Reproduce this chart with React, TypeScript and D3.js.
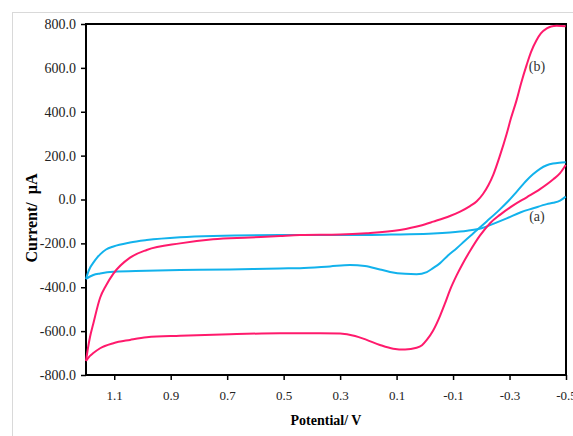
import React, { useRef, useEffect } from 'react';
import * as d3 from 'd3';

// [potential (V), current (µA)]
// curve (a) - cyan
const cvA_upper: [number, number][] = [
  [-0.499, 13], [-0.479, -5], [-0.455, -15], [-0.432, -21], [-0.384, -40], [-0.340, -58],
  [-0.290, -86], [-0.240, -112], [-0.201, -131], [-0.150, -142], [-0.089, -150],
  [-0.030, -155], [0.088, -159], [0.206, -162], [0.300, -162], [0.442, -162],
  [0.513, -162], [0.750, -166], [0.867, -172], [0.985, -185], [1.044, -196],
  [1.103, -214], [1.129, -228], [1.150, -250], [1.160, -264], [1.174, -288],
  [1.186, -312], [1.193, -333], [1.2, -362],
];
const cvA_lower: [number, number][] = [
  [1.2, -362], [1.186, -351], [1.174, -344], [1.150, -337], [1.103, -329], [0.985, -325],
  [0.867, -321], [0.690, -319], [0.513, -314], [0.442, -313], [0.336, -305],
  [0.265, -299], [0.212, -303], [0.159, -319], [0.123, -330], [0.070, -339],
  [0.029, -341], [-0.007, -331], [-0.029, -313], [-0.054, -290], [-0.082, -255],
  [-0.113, -222], [-0.142, -188], [-0.171, -155], [-0.219, -100], [-0.266, -45],
  [-0.295, -8], [-0.325, 35], [-0.361, 88], [-0.383, 115], [-0.408, 140],
  [-0.432, 156], [-0.454, 164], [-0.476, 168], [-0.499, 170],
];
// curve (b) - pink
const cvB_upper: [number, number][] = [
  [-0.499, 790], [-0.467, 792], [-0.447, 789], [-0.432, 780], [-0.411, 757],
  [-0.396, 727], [-0.376, 672], [-0.361, 615], [-0.341, 530], [-0.325, 453],
  [-0.305, 370], [-0.290, 300], [-0.266, 200], [-0.243, 115], [-0.225, 65],
  [-0.206, 25], [-0.184, -8], [-0.160, -30], [-0.125, -55], [-0.089, -75],
  [-0.030, -101], [0.017, -120], [0.088, -139], [0.206, -154], [0.300, -160],
  [0.442, -162], [0.513, -166], [0.619, -173], [0.750, -181], [0.867, -200],
  [0.985, -230], [1.044, -265], [1.103, -338], [1.129, -392], [1.150, -448],
  [1.174, -565], [1.186, -628], [1.193, -677], [1.2, -736],
];
const cvB_lower: [number, number][] = [
  [1.2, -736], [1.186, -713], [1.174, -700], [1.150, -678], [1.103, -655], [1.044, -640],
  [0.985, -628], [0.867, -621], [0.690, -614], [0.513, -610], [0.371, -610],
  [0.300, -611], [0.247, -622], [0.206, -640], [0.159, -663], [0.112, -680],
  [0.070, -684], [0.029, -676], [0.010, -664], [-0.007, -640], [-0.029, -598],
  [-0.054, -530], [-0.071, -475], [-0.089, -413], [-0.113, -345], [-0.136, -288],
  [-0.160, -235], [-0.195, -165], [-0.231, -108], [-0.266, -70], [-0.313, -27],
  [-0.361, 10], [-0.408, 47], [-0.455, 92], [-0.479, 120], [-0.499, 157],
];

const xTicks = [1.1, 0.9, 0.7, 0.5, 0.3, 0.1, -0.1, -0.3, -0.5];
const yTicks = [-800, -600, -400, -200, 0, 200, 400, 600, 800];

const curveLabels = [
  { text: '(a)', v: -0.397, i: -84 },
  { text: '(b)', v: -0.397, i: 599 },
];

const App = () => {
  const svgRef = useRef<SVGSVGElement>(null);

  useEffect(() => {
    const svg = d3.select(svgRef.current);
    svg.selectAll('*').remove();

    const left = 86, right = 566, top = 24, bottom = 375;

    const x = d3.scaleLinear().domain([1.2, -0.5]).range([left, right]);
    const y = d3.scaleLinear().domain([-800, 800]).range([bottom, top]);

    // outer light frame
    svg.append('rect')
      .attr('x', 12.5).attr('y', 12.5)
      .attr('width', 600).attr('height', 500)
      .attr('fill', 'none')
      .attr('stroke', '#d9d9d9');

    const font = '"Liberation Serif", "Times New Roman", serif';

    const yAxis = svg.append('g')
      .attr('transform', `translate(${left},0)`)
      .call(d3.axisLeft(y).tickValues(yTicks).tickFormat(d => (+d).toFixed(1)).tickSize(5).tickPadding(5));
    const xAxis = svg.append('g')
      .attr('transform', `translate(0,${bottom})`)
      .call(d3.axisBottom(x).tickValues(xTicks).tickFormat(d => (+d).toFixed(1)).tickSize(5).tickPadding(11));

    [xAxis, yAxis].forEach(g => {
      g.select('.domain').remove();
      g.selectAll('line').attr('stroke', '#000').attr('stroke-width', 1.5);
      g.selectAll('text')
        .attr('font-family', font)
        .attr('fill', '#222');
    });
    yAxis.selectAll('text').attr('font-size', 14);
    xAxis.selectAll('text').attr('font-size', 13);

    // plot frame
    svg.append('rect')
      .attr('x', left).attr('y', top)
      .attr('width', right - left).attr('height', bottom - top)
      .attr('fill', 'none')
      .attr('stroke', '#000')
      .attr('stroke-width', 2);

    const line = d3.line<[number, number]>()
      .x(d => x(d[0]))
      .y(d => y(d[1]))
      .curve(d3.curveMonotoneX);

    const branches = [
      { data: cvA_upper, color: '#12B2EC' },
      { data: cvA_lower, color: '#12B2EC' },
      { data: cvB_upper, color: '#FF1A6C' },
      { data: cvB_lower, color: '#FF1A6C' },
    ];

    svg.append('g')
      .selectAll('path')
      .data(branches)
      .enter()
      .append('path')
      .attr('d', d => line(d.data.slice().sort((a, b) => b[0] - a[0])))
      .attr('fill', 'none')
      .attr('stroke', d => d.color)
      .attr('stroke-width', 2)
      .attr('stroke-linejoin', 'round');

    svg.append('g')
      .selectAll('text')
      .data(curveLabels)
      .enter()
      .append('text')
      .attr('x', d => x(d.v))
      .attr('y', d => y(d.i))
      .attr('text-anchor', 'middle')
      .attr('dominant-baseline', 'middle')
      .attr('font-family', font)
      .attr('font-size', 14)
      .attr('fill', '#333')
      .text(d => d.text);

    svg.append('text')
      .attr('x', (left + right) / 2)
      .attr('y', 425)
      .attr('text-anchor', 'middle')
      .attr('font-family', font)
      .attr('font-weight', 'bold')
      .attr('font-size', 14)
      .text('Potential/ V');

    svg.append('text')
      .attr('transform', 'translate(37,218) rotate(-90)')
      .attr('text-anchor', 'middle')
      .attr('font-family', font)
      .attr('font-weight', 'bold')
      .attr('font-size', 16)
      .style('white-space', 'pre')
      .text('Current/  µA');
  }, []);

  return (
    <svg
      ref={svgRef}
      width={573}
      height={436}
      style={{ position: 'absolute', left: 0, top: 0, background: '#fff' }}
    />
  );
};

export default App;
